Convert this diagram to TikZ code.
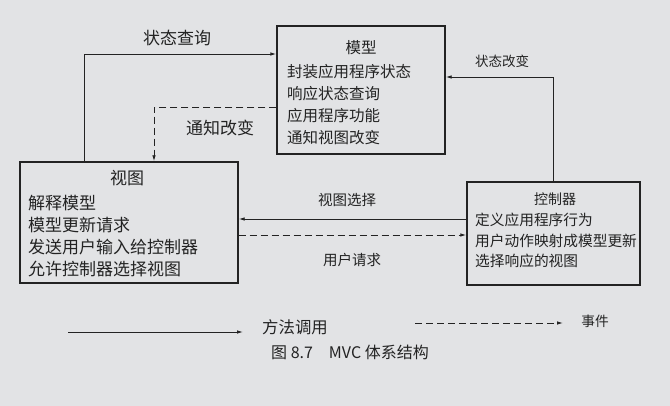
\documentclass[tikz,border=0pt]{standalone}
\usepackage{fontspec}
\newfontfamily\cjk{Noto Sans CJK SC}
\usetikzlibrary{arrows.meta,positioning,calc}
\definecolor{paper}{RGB}{226,227,229}
\definecolor{ink}{RGB}{35,35,35}
\tikzset{
  mbox/.style={rectangle,draw=ink,line width=1.4pt,inner sep=0pt},
  mtitle/.style={inner sep=0pt,text=ink},
  mtext/.style={anchor=north west,inner sep=0pt,align=left,text=ink},
  lbl/.style={inner sep=0pt,text=ink},
  call/.style={-{Latex[length=6pt,width=3.5pt]},draw=ink,line width=0.9pt},
  evt/.style={-{Latex[length=6pt,width=3.5pt]},draw=ink,line width=0.9pt,dash pattern=on 7pt off 4pt}
}

\begin{document}
\begin{tikzpicture}[x=1pt,y=-1pt,font=\cjk]
\fill[paper] (0,0) rectangle (670,406);
\useasboundingbox (0,0) rectangle (670,406);

% model
\node[mbox, minimum width=168pt, minimum height=128pt] (M) at (361,90) {};
\node[mtitle, font=\cjk\fontsize{15.5}{18}\selectfont] (Mt) at (361,48) {模型};
\node[mtext, font=\cjk\fontsize{15.5}{22}\selectfont] (Mb) at (287,64)
  {封装应用程序状态\\响应状态查询\\应用程序功能\\通知视图改变};

% view
\node[mbox, minimum width=218pt, minimum height=121pt] (V) at (129,222.5) {};
\node[mtitle, font=\cjk\fontsize{17}{20}\selectfont] (Vt) at (127,178) {视图};
\node[mtext, font=\cjk\fontsize{17}{22}\selectfont] (Vb) at (28,195.4)
  {解释模型\\模型更新请求\\发送用户输入给控制器\\允许控制器选择视图};

% controller
\node[mbox, minimum width=173pt, minimum height=103pt] (C) at (553.5,233.5) {};
\node[mtitle, font=\cjk\fontsize{14}{17}\selectfont] (Ct) at (555,199) {控制器};
\node[mtext, font=\cjk\fontsize{14.7}{20.5}\selectfont] (Cb) at (475,213)
  {定义应用程序行为\\用户动作映射成模型更新\\选择响应的视图};

% bends of the connectors
\coordinate (q1) at (84,54);
\coordinate (n1) at (154,107);
\coordinate (s1) at (553,77);
\coordinate (vs) at (0,219);
\coordinate (ur) at (0,235);

\draw[call] (V.north -| q1) -- (q1) -- (q1 -| M.west);
\draw[evt] (n1 -| M.west) -- (n1) -- (n1 |- V.north);
\draw[call] (C.north -| s1) -- (s1) -- (s1 -| M.east);
\draw[call] (vs -| C.west) -- (vs -| V.east);
\draw[evt] (ur -| V.east) -- (ur -| C.west);

\node[lbl, font=\cjk\fontsize{17}{20}\selectfont] (lq) at (177,38) {状态查询};
\node[lbl, font=\cjk\fontsize{17}{20}\selectfont] (ln) at (220,128) {通知改变};
\node[lbl, font=\cjk\fontsize{13.5}{16}\selectfont] (ls) at (502,61) {状态改变};
\node[lbl, font=\cjk\fontsize{14.5}{17}\selectfont] (lv) at (347,200) {视图选择};
\node[lbl, font=\cjk\fontsize{14.5}{17}\selectfont] (lu) at (352,260) {用户请求};

% legend
\coordinate (k1) at (68,332);
\coordinate (k2) at (243,332);
\coordinate (e1) at (415,323);
\coordinate (e2) at (563,323);
\draw[call] (k1) -- (k2);
\draw[evt] (e1) -- (e2);
\node[lbl, font=\cjk\fontsize{16.4}{19}\selectfont] (lk) at (295,327) {方法调用};
\node[lbl, font=\cjk\fontsize{13.7}{16}\selectfont] (le) at (595,321) {事件};

\node[lbl, font=\cjk\fontsize{16}{19}\selectfont] (cap) at (350,352) {图 8.7\hspace{1em}MVC 体系结构};
\end{tikzpicture}
\end{document}
